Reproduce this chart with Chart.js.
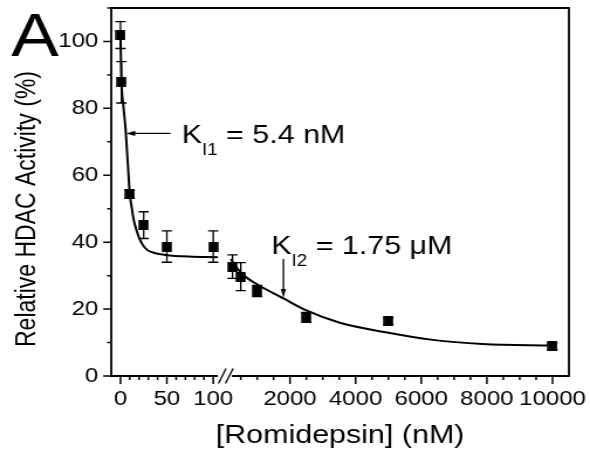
<!DOCTYPE html>
<html>
<head>
<meta charset="utf-8">
<script src="https://cdn.jsdelivr.net/npm/chart.js@4.4.1/dist/chart.umd.min.js"></script>
<style>
  html, body { margin: 0; padding: 0; background: #fff; overflow: hidden; }
  /* the original figure is stretched sideways, so the chart is drawn narrow and widened */
  #wrap { position: relative; width: 504px; height: 461px; transform: scaleX(1.170635); transform-origin: 0 0; }
</style>
</head>
<body>
<div id="wrap"><canvas id="chart"></canvas></div>
<script>
// measured HDAC activity vs romidepsin
const concNM = [0, 1, 10, 25, 50, 100, 250, 500, 1000, 2500, 5000, 10000];
const activity = [101.9, 87.8, 54.3, 45.1, 38.7, 38.7, 32.7, 29.7, 25.4, 17.5, 16.4, 8.9];
const activityErr = [4.0, 6.2, 1.2, 4.0, 4.7, 4.7, 3.5, 4.2, 1.7, 1.5, 1.0, 1.0];

// two-site fit, one piece on each side of the axis break
const fitLowX = [0, 1, 3, 5.4, 8, 10, 12, 14.3, 17, 19.7, 24, 28.7, 37.6, 48.4, 73.5, 105];
const fitLowY = [101.5, 88, 81, 74, 63, 54.5, 50.5, 46.6, 43.8, 41.6, 39.2, 37.7, 36.7, 36.2, 35.7, 35.5];
const fitHighX = [200, 275, 580, 1035, 1800, 2500, 3520, 5040, 6350, 7870, 10000];
const fitHighY = [35.0, 33.7, 30.2, 27.2, 23.2, 19.6, 15.9, 12.85, 10.8, 9.6, 9.1];

// axis ticks
const xMajorTicks = [0, 50, 100, 2000, 4000, 6000, 8000, 10000];
const xMinorTicks = [10, 20, 30, 40, 60, 70, 80, 90, 500, 1000, 1500, 2500, 3000, 3500,
  4500, 5000, 5500, 6500, 7000, 7500, 8500, 9000, 9500];
const yMajorTicks = [0, 20, 40, 60, 80, 100];

const FONT = '"Liberation Sans", Arial, sans-serif';
const SX = 1.170635;

// broken x axis: [-10,105] on the left part of the width, [100,10500] on the rest
const LOW = [-10, 105], HIGH = [100, 10500];
const SPLIT = 0.233, RESUME = 0.2543;

class BrokenScale extends Chart.LinearScale {
  determineDataLimits() {
    this.min = LOW[0];
    this.max = HIGH[1];
  }
  buildTicks() {
    const t = xMajorTicks.map(v => ({ value: v, major: true }))
      .concat(xMinorTicks.map(v => ({ value: v, major: false })));
    return t.sort((a, b) => a.value - b.value);
  }
  getPixelForValue(v) {
    let f;
    if (v <= LOW[1]) f = (v - LOW[0]) / (LOW[1] - LOW[0]) * SPLIT;
    else f = RESUME + (v - HIGH[0]) / (HIGH[1] - HIGH[0]) * (1 - RESUME);
    return this.getPixelForDecimal(f);
  }
  getValueForPixel(p) {
    const f = this.getDecimalForPixel(p);
    if (f <= SPLIT) return LOW[0] + f / SPLIT * (LOW[1] - LOW[0]);
    return HIGH[0] + (f - RESUME) / (1 - RESUME) * (HIGH[1] - HIGH[0]);
  }
}
BrokenScale.id = 'broken';
BrokenScale.defaults = Chart.LinearScale.defaults;
Chart.register(BrokenScale);

// filled square marker, a bit narrower than tall so it ends up square after the stretch
const marker = document.createElement('canvas');
marker.width = 9;
marker.height = 10;
const mctx = marker.getContext('2d');
mctx.fillStyle = '#000';
mctx.fillRect(0.25, 0, 8.5, 10);

function arrow(ctx, x1, y1, x2, y2, headLen, headHalf) {
  const ang = Math.atan2(y2 - y1, x2 - x1);
  ctx.beginPath();
  ctx.moveTo(x1, y1);
  ctx.lineTo(x2 - Math.cos(ang) * headLen * 0.8, y2 - Math.sin(ang) * headLen * 0.8);
  ctx.stroke();
  const bx = x2 - Math.cos(ang) * headLen, by = y2 - Math.sin(ang) * headLen;
  const nx = -Math.sin(ang), ny = Math.cos(ang);
  ctx.beginPath();
  ctx.moveTo(x2, y2);
  ctx.lineTo(bx + nx * headHalf.x, by + ny * headHalf.y);
  ctx.lineTo(bx - nx * headHalf.x, by - ny * headHalf.y);
  ctx.closePath();
  ctx.fill();
}

function kLabel(ctx, x, y, sub, rest) {
  ctx.textAlign = 'left';
  ctx.textBaseline = 'alphabetic';
  ctx.font = '26px ' + FONT;
  ctx.fillText('K', x, y);
  let cx = x + ctx.measureText('K').width;
  ctx.font = '16px ' + FONT;
  ctx.fillText(sub, cx, y + 11.5);
  cx += ctx.measureText(sub).width;
  ctx.font = '26px ' + FONT;
  ctx.fillText(rest, cx, y);
}

const decor = {
  id: 'decor',
  beforeDatasetsDraw(chart) {
    const { ctx, scales: { x, y } } = chart;
    ctx.save();
    ctx.strokeStyle = '#000';
    ctx.lineWidth = 1.3;
    const cap = 4.4;
    concNM.forEach((c, i) => {
      const px = x.getPixelForValue(c);
      const top = y.getPixelForValue(activity[i] + activityErr[i]);
      const bot = y.getPixelForValue(activity[i] - activityErr[i]);
      ctx.beginPath();
      ctx.moveTo(px, top); ctx.lineTo(px, bot);
      ctx.moveTo(px - cap, top); ctx.lineTo(px + cap, top);
      ctx.moveTo(px - cap, bot); ctx.lineTo(px + cap, bot);
      ctx.stroke();
    });
    ctx.restore();
  },
  afterDraw(chart) {
    const { ctx, chartArea: a, scales: { x, y } } = chart;
    ctx.save();
    ctx.strokeStyle = '#000';
    ctx.fillStyle = '#000';
    ctx.lineWidth = 1.8;
    ctx.lineCap = 'butt';

    // frame, with the break on the bottom axis
    const gs = x.getPixelForValue(LOW[1]);
    ctx.beginPath();
    ctx.moveTo(a.left, a.bottom); ctx.lineTo(a.left, a.top - 0.9);
    ctx.moveTo(a.left - 0.8, a.top); ctx.lineTo(a.right + 0.8, a.top);
    ctx.moveTo(a.right, a.top); ctx.lineTo(a.right, a.bottom);
    ctx.moveTo(a.left - 0.8, a.bottom); ctx.lineTo(gs, a.bottom);
    ctx.moveTo(gs + 12, a.bottom); ctx.lineTo(a.right + 0.8, a.bottom);
    ctx.stroke();
    ctx.lineWidth = 1.3;
    ctx.beginPath();
    ctx.moveTo(gs + 0.5, a.bottom + 7.5); ctx.lineTo(gs + 7, a.bottom - 7.5);
    ctx.moveTo(gs + 6.5, a.bottom + 7.5); ctx.lineTo(gs + 13, a.bottom - 7.5);
    ctx.stroke();

    // tick marks
    ctx.lineWidth = 1.5;
    ctx.beginPath();
    x.ticks.forEach(t => {
      const px = x.getPixelForValue(t.value);
      ctx.moveTo(px, a.bottom);
      ctx.lineTo(px, a.bottom + (t.major ? 8 : 4));
    });
    y.ticks.forEach(t => {
      const py = y.getPixelForValue(t.value);
      const len = yMajorTicks.includes(t.value) ? 8 : 4;
      ctx.moveTo(a.left, py);
      ctx.lineTo(a.left - len / SX, py);
    });
    ctx.stroke();

    // K_I annotations
    ctx.lineWidth = 1.3;
    arrow(ctx, x.getPixelForValue(54), y.getPixelForValue(72.5),
      x.getPixelForValue(6.1), y.getPixelForValue(72.5), 9 / SX, { x: 0, y: 2.6 });
    arrow(ctx, x.getPixelForValue(1800), y.getPixelForValue(35.0),
      x.getPixelForValue(1800), y.getPixelForValue(23.3), 9, { x: 2.6 / SX, y: 0 });
    kLabel(ctx, x.getPixelForValue(66), y.getPixelForValue(69.6), 'I1', ' = 5.4 nM');
    kLabel(ctx, x.getPixelForValue(1430), y.getPixelForValue(36.4), 'I2', ' = 1.75 \u03bcM');

    // panel letter
    ctx.font = '61px ' + FONT;
    ctx.textAlign = 'left';
    ctx.textBaseline = 'alphabetic';
    ctx.fillText('A', 9.5, 55.5);

    // y axis title
    ctx.translate(23.5, 209);
    ctx.rotate(-Math.PI / 2);
    ctx.font = '23px ' + FONT;
    ctx.textAlign = 'center';
    ctx.textBaseline = 'middle';
    ctx.fillText('Relative HDAC Activity (%)', 0, 0);
    ctx.restore();
  }
};

const toXY = (xs, ys) => xs.map((v, i) => ({ x: v, y: ys[i] }));

new Chart(document.getElementById('chart'), {
  type: 'scatter',
  data: {
    datasets: [
      {
        data: toXY(fitLowX, fitLowY), showLine: true, borderColor: '#000', borderWidth: 2,
        pointRadius: 0, cubicInterpolationMode: 'monotone'
      },
      {
        data: toXY(fitHighX, fitHighY), showLine: true, borderColor: '#000', borderWidth: 2,
        pointRadius: 0, cubicInterpolationMode: 'monotone'
      },
      {
        data: toXY(concNM, activity), showLine: false, pointStyle: marker,
        backgroundColor: '#000', borderColor: '#000'
      }
    ]
  },
  options: {
    responsive: true,
    maintainAspectRatio: false,
    animation: false,
    events: [],
    layout: { padding: { top: 8, right: 18, left: 0, bottom: 0 } },
    plugins: { legend: { display: false }, tooltip: { enabled: false } },
    scales: {
      x: {
        type: 'broken',
        grid: { display: false, drawTicks: false },
        border: { display: false },
        ticks: {
          autoSkip: false, maxRotation: 0, padding: 11, color: '#000',
          font: { family: FONT, size: 20.5 },
          callback: (v, i, ticks) => ticks[i].major ? String(v) : ''
        },
        title: {
          display: true, text: '[Romidepsin] (nM)', color: '#000',
          font: { family: FONT, size: 26 }, padding: { top: 0, bottom: 10 }
        },
        afterFit: s => { s.height = 85; s.paddingLeft = 0; s.paddingRight = 0; }
      },
      y: {
        min: 0, max: 110,
        grid: { display: false, drawTicks: false },
        border: { display: false },
        ticks: {
          stepSize: 10, autoSkip: false, padding: 11, color: '#000',
          font: { family: FONT, size: 20.5 },
          callback: v => yMajorTicks.includes(v) ? String(v) : ''
        },
        afterFit: s => { s.width = 95; s.paddingTop = 0; s.paddingBottom = 0; }
      }
    }
  },
  plugins: [decor]
});
</script>
</body>
</html>
